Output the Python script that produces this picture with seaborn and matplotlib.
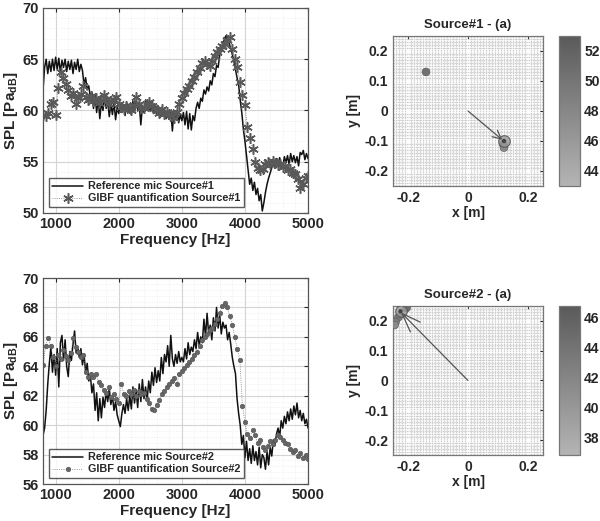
import numpy as np
import matplotlib
matplotlib.use('Agg')
import matplotlib.pyplot as plt
import seaborn as sns
from matplotlib.colors import LinearSegmentedColormap, Normalize
from matplotlib.cm import ScalarMappable
from matplotlib.ticker import MultipleLocator

# ---------------- data ----------------
f_ref = np.arange(800, 5001, 25)     # reference mic frequency bins [Hz]
f_gibf = np.arange(800, 5001, 40)    # GIBF frequency bins [Hz]

ref_src1 = [
    62.0, 64.2, 65.0, 63.6, 64.8, 63.8, 65.0, 63.9,
    65.2, 64.0, 65.1, 63.7, 64.9, 64.2, 65.0, 63.8,
    64.8, 64.0, 64.9, 63.6, 64.7, 64.0, 65.0, 63.8,
    64.5, 63.9, 62.5, 63.2, 62.0, 62.4, 61.3, 61.8,
    60.2, 61.5, 59.8, 61.2, 59.2, 60.8, 60.0, 61.4,
    60.2, 60.9, 59.4, 60.6, 59.6, 60.8, 59.1, 60.3,
    59.7, 60.6, 59.8, 60.5, 59.5, 60.8, 59.9, 60.4,
    59.6, 60.9, 59.8, 61.0, 60.1, 60.6, 58.6, 60.4,
    59.8, 61.0, 60.0, 60.7, 59.9, 60.5, 59.7, 60.6,
    59.6, 60.2, 59.3, 60.3, 59.5, 60.1, 59.2, 60.0,
    59.4, 59.9, 58.0, 59.8, 59.2, 60.0, 58.8, 59.6,
    59.0, 59.8, 58.6, 59.9, 58.2, 59.7, 58.1, 59.5,
    59.0, 60.2, 60.8, 60.2, 61.2, 60.9, 62.0, 61.6,
    62.3, 61.9, 62.9, 62.5, 63.6, 63.3, 64.4, 64.2,
    65.4, 65.9, 66.4, 67.0, 67.3, 66.8, 66.6, 66.0,
    65.5, 64.8, 64.0, 63.2, 62.5, 61.0, 59.8, 58.2,
    57.0, 55.6, 54.2, 52.8, 53.4, 52.2, 53.0, 51.8,
    52.4, 51.2, 51.8, 50.2, 51.0, 52.0, 52.8, 53.4,
    53.9, 54.4, 55.0, 54.5, 55.3, 54.6, 55.4, 54.8,
    54.5, 55.5, 54.9, 55.6, 54.7, 55.8, 55.0, 55.6,
    54.9, 55.5, 54.6, 55.9, 55.7, 56.1, 55.2, 55.8,
    55.3,
]

gibf_src1 = [
    59.6, 59.5, 59.8, 60.6, 60.8,
    59.6, 62.2, 63.8, 63.2, 62.6,
    62.0, 61.4, 61.7, 60.6, 61.2,
    61.6, 62.4, 61.3, 61.0, 61.4,
    60.9, 61.2, 60.7, 61.0, 61.5,
    61.1, 60.6, 60.9, 61.0, 61.3,
    60.6, 60.3, 60.1, 60.4, 60.2,
    60.0, 60.5, 61.3, 60.6, 60.2,
    60.2, 60.6, 60.8, 60.4, 60.2,
    60.0, 59.8, 60.1, 59.7, 59.9,
    59.7, 59.5, 59.3, 59.9, 60.6,
    61.2, 61.7, 62.1, 62.4, 62.9,
    63.3, 63.8, 64.1, 64.6, 64.8,
    64.5, 64.3, 64.8, 65.3, 65.7,
    66.0, 66.3, 66.5, 66.9, 67.2,
    66.0, 65.0, 64.2, 62.8, 61.5,
    60.5, 58.4, 57.3, 56.2, 55.0,
    54.4, 54.2, 54.3, 54.8, 55.0,
    54.8, 55.1, 54.9, 54.7, 54.8,
    54.5, 54.6, 54.2, 54.3, 53.9,
    53.8, 53.3, 52.4, 52.8, 53.4,
    53.6,
]

ref_src2 = [
    59.3, 59.8, 61.0, 62.8, 64.2, 65.3, 63.6, 64.8,
    63.4, 65.2, 62.6, 65.6, 66.1, 64.4, 65.8, 64.0,
    63.3, 65.0, 64.4, 65.5, 66.4, 64.9, 65.3, 64.6,
    65.2, 64.1, 64.8, 63.6, 64.2, 63.0, 63.4, 62.2,
    62.8, 61.0, 62.2, 60.3, 61.8, 60.5, 61.9, 61.2,
    62.3, 61.6, 62.5, 61.4, 62.0, 61.0, 61.6, 60.7,
    60.3, 59.9, 60.8, 61.4, 60.8, 61.8, 61.0, 62.0,
    61.1, 62.6, 61.5, 62.4, 61.2, 62.8, 61.6, 63.1,
    61.8, 62.6, 61.7, 63.0, 62.2, 63.6, 62.7, 63.9,
    62.9, 63.7, 63.0, 64.6, 63.5, 64.8, 64.3, 65.4,
    64.0, 66.1, 64.5, 64.0, 64.8, 64.2, 65.0, 64.3,
    64.6, 64.3, 65.2, 64.5, 65.6, 64.8, 65.3, 65.0,
    65.8, 65.2, 66.3, 65.4, 66.0, 65.6, 67.2, 66.0,
    67.6, 66.2, 66.8, 65.8, 67.3, 66.4, 68.0, 66.6,
    67.5, 66.2, 67.0, 66.6, 66.8, 65.8, 66.3, 65.5,
    64.6, 64.0, 63.5, 61.8, 60.8, 60.0, 58.7, 59.3,
    57.8, 58.9, 57.6, 58.4, 57.4, 58.6, 57.6, 58.2,
    57.3, 58.5, 57.1, 58.0, 57.8, 57.0, 58.2, 57.3,
    58.5, 57.9, 59.0, 58.6, 59.4, 59.8, 59.2, 60.3,
    59.8, 60.6, 60.1, 60.9, 60.3, 61.1, 60.4, 61.3,
    60.7, 61.5, 60.5, 61.0, 60.3, 60.8, 60.1, 60.4,
    59.8,
]

gibf_src2 = [
    64.1, 65.4, 65.9, 65.4, 64.6,
    64.0, 64.8, 64.5, 65.1, 64.7,
    64.4, 64.9, 65.9, 65.3, 65.0,
    64.6, 64.8, 63.6, 63.3, 63.5,
    63.3, 63.5, 62.9, 62.7, 62.4,
    62.2, 62.6, 61.9, 62.1, 61.8,
    61.5, 62.8, 62.1, 62.0, 62.3,
    62.1, 62.4, 62.0, 62.3, 62.1,
    62.2, 61.8, 61.5, 61.1, 61.0,
    61.4, 61.7, 62.1, 62.3, 62.6,
    62.8, 63.0, 63.2, 62.8, 63.5,
    63.7, 63.9, 64.1, 64.3, 64.5,
    64.8, 65.0, 65.4, 65.8, 66.0,
    66.2, 66.5, 66.6, 66.9, 67.2,
    67.6, 68.1, 68.3, 68.0, 67.4,
    66.8, 66.0, 65.2, 64.4, 61.3,
    60.2, 59.4, 59.1, 59.7, 59.3,
    58.8, 59.0, 58.5, 58.3, 58.6,
    58.9, 58.7, 59.0, 59.3, 59.2,
    59.0, 58.8, 58.7, 58.4, 58.2,
    58.3, 57.9, 58.1, 57.8, 58.0,
    57.7,
]

# source maps: localised points (x, y, level) and the direction arrow
map1_x = [-0.140, 0.118, 0.120]
map1_y = [0.130, -0.112, -0.122]
map1_lvl = [50.5, 49.5, 47.5]
map1_ring = (0.120, -0.100)
map1_arrow = ((0.0, 0.0), (0.114, -0.096))
map1_range = (43.0, 53.0)
map1_ticks = [44, 46, 48, 50, 52]

map2_x = [-0.205, -0.232, -0.242, -0.245]
map2_y = [0.243, 0.212, 0.196, 0.186]
map2_lvl = [44.5, 43.5, 42.5, 41.5]
map2_ring = (-0.225, 0.232)
map2_arrow = ((0.0, 0.0), (-0.224, 0.229))
map2_range = (36.85, 46.75)
map2_ticks = [38, 40, 42, 44, 46]

# ---------------- style ----------------
sns.set_style('white')
plt.rcParams['font.family'] = ['Liberation Sans', 'DejaVu Sans']
plt.rcParams['font.weight'] = 'bold'
plt.rcParams['axes.labelweight'] = 'bold'
plt.rcParams['mathtext.fontset'] = 'custom'
plt.rcParams['mathtext.bf'] = 'Liberation Sans:bold'
plt.rcParams['mathtext.rm'] = 'Liberation Sans:bold'

gray_cmap = LinearSegmentedColormap.from_list('grays', ['#b4b4b4', '#5a5a5a'])

fig = plt.figure(figsize=(6.0, 5.21), dpi=100)


def spectrum_panel(rect, f_r, y_r, f_g, y_g, ylim, ystep, marker, msize, mew, src):
    ax = fig.add_axes(rect)
    ax.set_axisbelow(True)
    ax.xaxis.set_major_locator(MultipleLocator(1000))
    ax.yaxis.set_major_locator(MultipleLocator(ystep))
    ax.xaxis.set_minor_locator(MultipleLocator(200))
    ax.yaxis.set_minor_locator(MultipleLocator(ystep / 5))
    ax.grid(which='major', color='#d4d4d4', lw=0.8)
    ax.grid(which='minor', color='#e8e8e8', lw=0.5, ls=':')
    sns.lineplot(x=f_r, y=y_r, ax=ax, color='#111111', lw=1.1,
                 estimator=None, sort=False, label=f'Reference mic Source#{src}')
    sns.lineplot(x=f_g, y=y_g, ax=ax, color='#777777', lw=0.6, ls=':',
                 marker=marker, markersize=msize, markeredgecolor='#595959',
                 markerfacecolor='#666666', markeredgewidth=mew,
                 estimator=None, sort=False,
                 label=f'GIBF quantification Source#{src}')
    ax.set_xlim(800, 5000)
    ax.set_ylim(*ylim)
    ax.set_xticks([1000, 2000, 3000, 4000, 5000])
    ax.set_xlabel('Frequency [Hz]', fontsize=11, labelpad=1)
    ax.set_ylabel(r'SPL [Pa$_{\mathbf{dB}}$]', fontsize=11, labelpad=2)
    ax.tick_params(which='both', direction='in', top=True, right=True,
                   labelsize=10.5, length=3, pad=3)
    ax.tick_params(which='minor', length=0)
    for s in ax.spines.values():
        s.set_color('#555555')
        s.set_linewidth(0.9)
    leg = ax.legend(loc='lower left', bbox_to_anchor=(0.015, 0.02),
                    fontsize=7.8, frameon=True, fancybox=False,
                    handlelength=2.8, borderpad=0.3, labelspacing=0.2,
                    handletextpad=0.5, borderaxespad=0.2)
    leg.get_frame().set_edgecolor('#333333')
    leg.get_frame().set_linewidth(1.0)
    for t in leg.get_texts():
        t.set_fontweight('bold')
    return ax


def map_panel(rect, cb_rect, xs, ys, lvls, ring, arrow, rng, ticks, title,
              head_len, head_w, mscale):
    ax = fig.add_axes(rect)
    norm = Normalize(vmin=rng[0], vmax=rng[1])
    ax.set_xlim(-0.25, 0.25)
    ax.set_ylim(-0.25, 0.25)
    ax.set_xticks(np.arange(-0.25, 0.2501, 0.01), minor=True)
    ax.set_yticks(np.arange(-0.25, 0.2501, 0.01), minor=True)
    ax.set_xticks([-0.2, 0, 0.2])
    ax.set_yticks([-0.2, -0.1, 0, 0.1, 0.2])
    ax.set_xticklabels(['-0.2', '0', '0.2'])
    ax.set_yticklabels(['-0.2', '-0.1', '0', '0.1', '0.2'])
    ax.set_axisbelow(True)
    ax.grid(which='minor', color='#cfcfcf', lw=0.9, ls=(0, (1.2, 0.6)))
    ax.grid(which='major', visible=False)
    sns.scatterplot(x=xs, y=ys, hue=lvls, palette=gray_cmap, hue_norm=norm,
                    s=32, edgecolor='#555555', linewidth=0.4, ax=ax,
                    legend=False, zorder=4)
    ax.scatter([ring[0]], [ring[1]], s=70, facecolor='#9a9a9a',
               edgecolor='#555555', lw=0.9, alpha=0.8, zorder=5)
    ax.scatter([ring[0]], [ring[1]], s=10, facecolor='#444444',
               edgecolor='none', zorder=6)
    ax.annotate('', xy=arrow[1], xytext=arrow[0],
                arrowprops=dict(arrowstyle=f'->,head_length={head_len},head_width={head_w}',
                                color='#555555', lw=0.9, mutation_scale=mscale,
                                shrinkA=0, shrinkB=0), zorder=6)
    ax.set_title(title, fontsize=9.5, fontweight='bold', pad=6)
    ax.set_xlabel('x [m]', fontsize=10, labelpad=1)
    ax.set_ylabel('y [m]', fontsize=10, labelpad=2)
    ax.tick_params(which='both', direction='in', labelsize=10, length=2.5,
                   top=True, right=True)
    ax.tick_params(which='minor', length=0)
    for s in ax.spines.values():
        s.set_color('#777777')
        s.set_linewidth(0.9)

    cax = fig.add_axes(cb_rect)
    sm = ScalarMappable(norm=norm, cmap=gray_cmap)
    cb = fig.colorbar(sm, cax=cax, ticks=ticks)
    cb.outline.set_edgecolor('#777777')
    cb.outline.set_linewidth(0.9)
    cax.tick_params(labelsize=10, direction='in', length=2.5, pad=3)
    return ax


spectrum_panel([0.0717, 0.5912, 0.4417, 0.3935], f_ref, ref_src1, f_gibf, gibf_src1,
               (50, 70), 5, (6, 2, 0), 7.5, 1.1, 1)
spectrum_panel([0.0717, 0.0710, 0.4417, 0.3954], f_ref, ref_src2, f_gibf, gibf_src2,
               (56, 70), 2, 'o', 3.2, 0.5, 2)

map_panel([0.655, 0.643, 0.25, 0.288], [0.9317, 0.643, 0.035, 0.288],
          map1_x, map1_y, map1_lvl, map1_ring, map1_arrow, map1_range,
          map1_ticks, 'Source#1 - (a)', 0.5, 0.25, 12)
map_panel([0.655, 0.1267, 0.25, 0.286], [0.9317, 0.1267, 0.035, 0.286],
          map2_x, map2_y, map2_lvl, map2_ring, map2_arrow, map2_range,
          map2_ticks, 'Source#2 - (a)', 0.68, 0.25, 20)

plt.savefig('out.png', dpi=100)
